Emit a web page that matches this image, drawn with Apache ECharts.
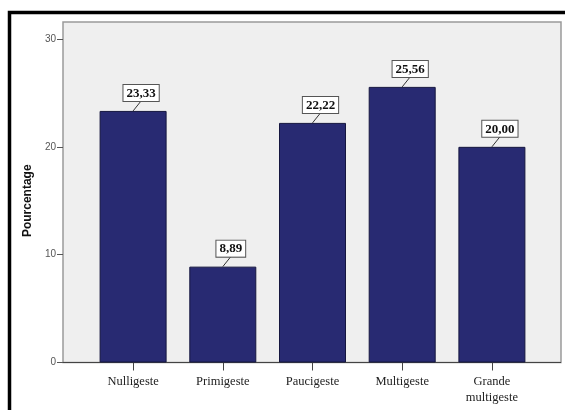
<!DOCTYPE html>
<html>
<head>
<meta charset="utf-8">
<script src="https://cdn.jsdelivr.net/npm/echarts@6/dist/echarts.min.js"></script>
<style>
  html, body { margin: 0; padding: 0; background: #ffffff; }
  #chart { width: 565px; height: 410px; }
</style>
</head>
<body>
<div id="chart"></div>
<script>
// Parity categories and their share of respondents (%)
var categories = ['Nulligeste', 'Primigeste', 'Paucigeste', 'Multigeste', 'Grande\nmultigeste'];
var percentages = [23.33, 8.89, 22.22, 25.56, 20.00];
var yTicks = [0, 10, 20, 30];

var chart = echarts.init(document.getElementById('chart'), null, { renderer: 'canvas' });

function fmt(v) {
  return v.toFixed(2).replace('.', ',');
}

// callout labels: a boxed value joined to the top of its bar by a short slanted leader
function renderCallout(params, api) {
  var pt = api.coord([api.value(0), api.value(1)]);
  var bx = pt[0] + 8;
  var by = pt[1] - 10;
  return {
    type: 'group',
    children: [
      { type: 'line', shape: { x1: pt[0], y1: pt[1], x2: bx, y2: by },
        style: { stroke: '#333333', lineWidth: 1 } },
      { type: 'text', x: bx, y: by,
        style: {
          text: fmt(api.value(1)),
          align: 'center',
          verticalAlign: 'bottom',
          font: 'bold 13px "Liberation Serif"',
          fill: '#111111',
          backgroundColor: '#ffffff',
          borderColor: '#555555',
          borderWidth: 1,
          padding: [2, 3, 1, 3]
        } }
    ]
  };
}

chart.setOption({
  animation: false,
  backgroundColor: '#ffffff',
  graphic: [
    // outer frame
    { type: 'rect', z: 0, shape: { x: 9.5, y: 12.5, width: 600, height: 450 },
      style: { fill: '#ffffff', stroke: '#000000', lineWidth: 3.5 } },
    // plot panel
    { type: 'rect', z: 1, shape: { x: 63, y: 22, width: 498, height: 340.5 },
      style: { fill: '#efefef', stroke: '#9a9a9a', lineWidth: 1.5 } },
    { type: 'line', z: 2, shape: { x1: 63, y1: 362.5, x2: 561, y2: 362.5 },
      style: { stroke: '#444444', lineWidth: 1 } }
  ],
  grid: { left: 88.25, right: 28.25, top: 39, bottom: 47.5, containLabel: false },
  xAxis: {
    type: 'category',
    data: categories,
    axisLine: { show: false },
    axisTick: { show: true, alignWithLabel: true, length: 8, lineStyle: { color: '#444', width: 1 } },
    axisLabel: {
      margin: 11,
      fontFamily: 'Liberation Serif',
      fontSize: 12.5,
      color: '#222',
      lineHeight: 16
    },
    splitLine: { show: false },
    z: 3
  },
  yAxis: {
    type: 'value',
    min: 0,
    max: 30,
    interval: 10,
    offset: 25.25,
    name: 'Pourcentage',
    nameLocation: 'middle',
    nameGap: 25,
    nameTextStyle: { fontFamily: 'Liberation Sans', fontSize: 12, fontWeight: 'bold', color: '#111' },
    axisLine: { show: false },
    axisTick: { show: true, length: 6, lineStyle: { color: '#555', width: 1 } },
    axisLabel: {
      margin: 7,
      fontFamily: 'Liberation Sans',
      fontSize: 10,
      color: '#555',
      formatter: function (v) { return yTicks.indexOf(v) >= 0 ? String(v) : ''; }
    },
    splitLine: { show: false },
    z: 3
  },
  series: [{
    type: 'bar',
    data: percentages,
    barWidth: 67,
    z: 4,
    itemStyle: { color: '#282a72', borderColor: '#15163f', borderWidth: 1 }
  }, {
    type: 'custom',
    data: percentages.map(function (v, i) { return [i, v]; }),
    renderItem: renderCallout,
    z: 5,
    silent: true
  }]
});
</script>
</body>
</html>
